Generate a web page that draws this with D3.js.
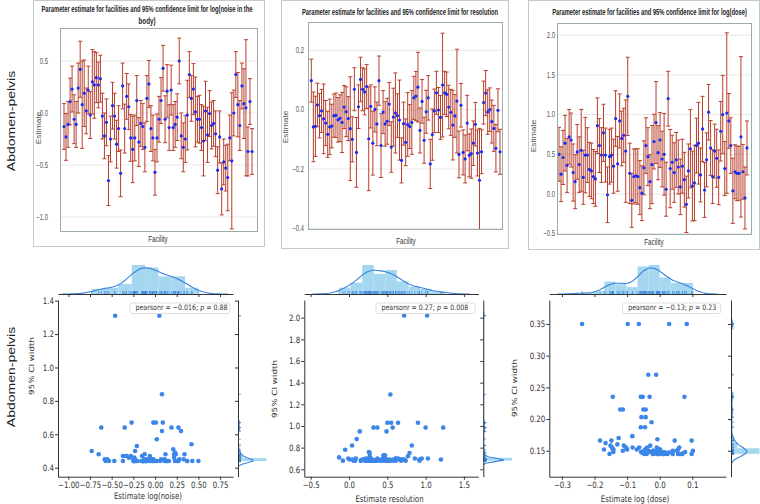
<!DOCTYPE html>
<html><head><meta charset="utf-8">
<script src="https://cdn.jsdelivr.net/npm/d3@7"></script>
<style>body{margin:0;background:#fff}svg{display:block}</style>
</head><body><svg id="c" width="760" height="504"></svg>
<script>
// ---------------- DATA ----------------
const rowLabel = "Abdomen-pelvis";
const noiseEst = [-0.13,-0.23,-0.11,0.11,0.23,-0.06,-0.11,0.24,0.42,0.08,0.19,0.02,0.22,-0.02,0.30,0.27,0.34,0.27,0.33,-0.03,-0.22,-0.09,-0.65,-0.25,0.07,-0.03,-0.30,-0.15,-0.58,0.26,-0.15,0.16,0.06,-0.24,-0.35,-0.24,0.12,-0.28,-0.10,-0.13,-0.33,0.14,0.28,-0.15,-0.24,-0.57,-0.24,-0.06,0.12,0.43,-0.06,0.21,-0.14,0.22,-0.14,-0.11,-0.04,0.50,-0.22,-0.33,-0.25,-0.02,0.37,0.14,0.23,0.01,-0.06,-0.06,-0.14,-0.27,0.02,-0.21,-0.005,-0.12,-0.10,-0.20,-0.55,-0.23,-0.73,-0.47,-0.53,-0.62,-0.24,-0.46,0.00,0.37,0.08,-0.12,0.26,0.09,0.05,-0.37,0.11,-0.37];
const noiseWidth = [0.44,0.45,0.44,0.45,0.44,0.47,0.44,0.48,0.54,0.84,0.64,0.44,0.46,0.45,0.62,0.64,0.48,0.44,0.45,0.44,0.44,0.45,0.48,0.44,0.45,0.44,0.46,0.44,0.45,0.44,0.47,0.44,0.44,0.45,0.64,0.44,0.48,0.47,0.44,0.44,0.47,0.44,0.45,0.44,0.44,0.44,0.46,0.44,0.44,0.44,0.45,0.51,0.44,0.48,0.44,0.44,0.45,0.44,0.44,0.47,0.45,0.67,0.44,0.44,0.49,0.67,0.44,0.46,0.44,0.67,0.57,0.53,0.44,0.45,0.44,0.44,0.45,0.50,0.50,0.44,0.44,0.64,0.44,1.31,0.44,0.44,0.62,0.48,0.44,0.67,1.31,0.47,0.44,0.44];
const resEst = [0.098,-0.058,-0.056,0.016,-0.02,-0.004,-0.031,-0.045,-0.083,-0.058,-0.055,-0.02,-0.019,-0.034,-0.029,-0.043,0.009,-0.007,-0.03,-0.064,-0.1,0.069,-0.144,0.01,0.102,0.069,0.06,0.078,-0.098,0.011,-0.113,0.001,-0.048,0.098,-0.121,-0.008,-0.048,-0.039,0.019,-0.126,-0.025,-0.011,-0.02,-0.035,-0.171,-0.047,-0.11,-0.05,-0.057,-0.043,0.04,0.046,0.076,-0.07,0.028,-0.103,-0.007,0.04,-0.183,-0.084,-0.004,0.057,-0.001,-0.026,0.083,0.057,0.052,0.009,-0.009,-0.052,-0.021,0.029,-0.151,0.015,-0.144,-0.166,-0.045,-0.154,-0.148,-0.113,-0.049,-0.146,-0.238,-0.142,0.024,0.056,-0.008,0.0,-0.04,-0.063,-0.13,-0.002,-0.142];
const resWidth = [0.145,0.235,0.203,0.147,0.15,0.145,0.235,0.152,0.155,0.187,0.147,0.145,0.15,0.15,0.158,0.203,0.145,0.168,0.148,0.35,0.152,0.145,0.235,0.147,0.15,0.145,0.155,0.148,0.35,0.145,0.215,0.152,0.147,0.166,0.215,0.145,0.15,0.155,0.145,0.17,0.195,0.27,0.147,0.27,0.152,0.145,0.158,0.215,0.148,0.215,0.145,0.166,0.235,0.152,0.147,0.155,0.145,0.15,0.166,0.173,0.147,0.145,0.152,0.148,0.35,0.145,0.15,0.147,0.155,0.235,0.145,0.35,0.158,0.147,0.152,0.162,0.187,0.145,0.166,0.15,0.147,0.155,0.35,0.148,0.145,0.152,0.15,0.147,0.145,0.155,0.16,0.145,0.152];
const doseEst = [0.5,0.25,0.46,0.64,0.36,0.72,0.68,0.27,0.155,0.53,0.37,0.55,0.21,0.49,0.49,0.31,0.29,0.22,0.19,0.86,0.61,0.49,0.77,0.49,-0.01,0.47,0.49,0.35,0.95,0.38,0.92,0.70,0.74,0.54,1.23,0.26,-0.08,0.22,0.23,0.22,0.08,0.01,0.33,0.61,0.47,0.155,0.37,0.66,0.9,0.52,0.68,0.44,0.5,0.06,1.2,0.32,0.4,0.27,0.43,0.34,0.09,0.35,0.18,-0.13,0.29,0.57,0.1,0.14,0.61,0.64,0.24,0.82,0.05,0.43,1.03,0.58,0.22,0.54,0.45,0.21,0.79,1.0,0.32,1.02,0.92,0.61,0.04,0.28,0.26,0.26,0.72,0.28,-0.05,0.58];
const doseWidth = [0.68,0.69,0.68,0.70,0.68,0.69,0.68,0.72,0.68,0.69,0.70,1.03,0.68,0.95,0.69,0.68,0.70,0.68,0.69,0.70,0.68,0.69,0.72,0.68,0.70,0.69,0.68,0.68,0.70,0.69,0.68,0.69,0.68,1.29,0.985,0.76,0.68,0.69,0.68,0.70,0.68,0.69,0.68,0.70,0.73,0.68,0.985,0.69,1.03,0.68,0.69,0.70,1.03,0.68,0.69,0.985,0.68,0.75,0.69,0.68,0.70,0.68,0.69,0.71,0.68,0.985,0.88,0.95,0.69,1.03,0.68,0.82,0.69,0.68,0.70,0.69,0.68,0.68,0.73,0.69,0.75,0.985,0.68,2.02,0.69,0.70,0.82,0.68,0.69,0.68,2.02,0.69,0.78,0.68];
const topTitles = [
  ["Parameter estimate for facilities and 95%  confidence limit for log(noise in the", "body)"],
  ["Parameter estimate for facilities and 95% confidence limit for resolution"],
  ["Parameter estimate for facilities and 95% confidence limit for log(dose)"]
];
const topTicks = [[0.5,0,-0.5,-1.0],[0.2,0,-0.2,-0.4],[2.0,1.5,1.0,0.5,0,-0.5]];
const jointXLabels = ["Estimate log(noise)","Estimate resolution","Estimate log (dose)"];
const jointYLabel = "95% CI width";
const jointXTicks = [[-1,-0.75,-0.5,-0.25,0,0.25,0.5,0.75],[-0.5,0,0.5,1.0,1.5],[-0.3,-0.2,-0.1,0,0.1]];
const jointYTicks = [[0.4,0.6,0.8,1.0,1.2,1.4],[0.6,0.8,1.0,1.2,1.4,1.6,1.8,2.0],[0.15,0.20,0.25,0.30,0.35]];
const pearsonR = ["\u22120.016","0.27","\u22120.13"];
const pearsonP = ["0.88","0.008","0.23"];

// ---------------- HELPERS ----------------
const svg = d3.select('#c');
const SANS = 'Liberation Sans, Arial, sans-serif';
const DV = 'DejaVu Sans, sans-serif';
function label(g, x, y, s, o = {}) {
  const t = g.append('text')
    .attr('text-anchor', o.anchor || 'middle')
    .attr('dominant-baseline', 'central')
    .style('font-family', o.font || SANS)
    .style('font-size', (o.size || 8) + 'px')
    .style('font-weight', o.weight || 'normal')
    .attr('fill', o.fill || '#333').text(s);
  let sx = o.sx || 1;
  if (o.len) sx = o.len / t.node().getComputedTextLength();
  let tr = `translate(${x},${y})`;
  if (sx !== 1) tr += ` scale(${sx},1)`;
  if (o.rot) tr += ` rotate(${o.rot})`;
  t.attr('transform', tr);
  return t;
}

// ---------------- TOP PANELS ----------------
function topPanel(p) {
  const g = svg.append('g');
  g.append('rect').attr('x', p.outer[0] + 0.5).attr('y', p.outer[1] + 0.5)
    .attr('width', p.outer[2] - p.outer[0]).attr('height', p.outer[3] - p.outer[1])
    .attr('fill', '#fff').attr('stroke', '#c3caca');
  const [L, T, R, B] = p.inner;
  const x = d3.scalePoint().domain(d3.range(p.est.length)).range(p.xr);
  const y = d3.scaleLinear().domain(p.yDom).range([B, T]);
  g.selectAll('line.grid').data(p.ticks).join('line').attr('class', 'grid')
    .attr('x1', L).attr('x2', R).attr('y1', d => y(d)).attr('y2', d => y(d))
    .attr('stroke', '#e8e8e8').attr('stroke-width', 1);
  const cid = 'clip' + p.id;
  svg.append('clipPath').attr('id', cid).append('rect').attr('x', L).attr('y', T).attr('width', R - L).attr('height', B - T);
  const pg = g.append('g').attr('clip-path', `url(#${cid})`);
  const data = p.est.map((e, i) => ({ i, e, lo: e - p.w[i] / 2, hi: e + p.w[i] / 2 }));
  const col = '#b83e2b';
  pg.selectAll('line.wh').data(data).join('line').attr('class', 'wh')
    .attr('x1', d => x(d.i)).attr('x2', d => x(d.i)).attr('y1', d => y(d.lo)).attr('y2', d => y(d.hi))
    .attr('stroke', col).attr('stroke-width', 1);
  ['lo', 'hi'].forEach(k => {
    pg.selectAll('line.cap' + k).data(data).join('line').attr('class', 'cap' + k)
      .attr('x1', d => x(d.i) - 2).attr('x2', d => x(d.i) + 2).attr('y1', d => y(d[k])).attr('y2', d => y(d[k]))
      .attr('stroke', col).attr('stroke-width', 1);
  });
  pg.selectAll('circle').data(data).join('circle')
    .attr('cx', d => x(d.i)).attr('cy', d => y(d.e)).attr('r', 1.6).attr('fill', '#1b2bf2');
  g.append('rect').attr('x', L + 0.5).attr('y', T + 0.5).attr('width', R - L).attr('height', B - T)
    .attr('fill', 'none').attr('stroke', '#9aabab');
  const ax = g.append('g').attr('transform', `translate(${L},0)`)
    .call(d3.axisLeft(y).tickValues(p.ticks).tickSize(0).tickFormat(d3.format('.1f')));
  ax.select('.domain').remove();
  const sx = 0.72;
  ax.selectAll('.tick text').attr('x', -p.pad / sx).attr('dy', null).attr('dominant-baseline', 'central')
    .attr('transform', `scale(${sx},1)`).style('font-family', SANS).style('font-size', '8.2px').attr('fill', '#555');
  p.title.forEach((t, i) => label(g, p.tx, p.ty[i], t, { size: 8.2, weight: 'bold', fill: '#222', len: p.tlen[i] }));
  label(g, p.ex, p.ey, 'Estimate', { size: 8.4, rot: -90, sx: 0.75, fill: '#555' });
  label(g, p.fx, p.fy, 'Facility', { size: 9.2, sx: 0.68, fill: '#333' });
}

topPanel({ id: 1, est: noiseEst, w: noiseWidth, outer: [33, 0, 264, 246], inner: [60, 28, 257, 231],
  xr: [64, 252], yDom: [(113 - 231) / 104, (113 - 28) / 104], ticks: topTicks[0], pad: 12,
  title: topTitles[0], tx: 147, ty: [10, 21], tlen: [211, 17], ex: 39, ey: 128, fx: 158, fy: 239 });
topPanel({ id: 2, est: resEst, w: resWidth, outer: [281, 0, 508, 248], inner: [308, 22, 502, 229],
  xr: [311.3, 500], yDom: [(109.7 - 229) / 296.5, (109.7 - 22) / 296.5], ticks: topTicks[1], pad: 4,
  title: topTitles[1], tx: 400, ty: [13], tlen: [196], ex: 286, ey: 127, fx: 406, fy: 241 });
topPanel({ id: 3, est: doseEst, w: doseWidth, outer: [528, 0, 759, 249], inner: [557, 23, 751, 234],
  xr: [559, 747], yDom: [(194 - 234) / 79.4, (194 - 23) / 79.4], ticks: topTicks[2], pad: 2,
  title: topTitles[2], tx: 649.5, ty: [13], tlen: [195], ex: 534, ey: 136, fx: 654, fy: 242 });

label(svg, 12, 121, rowLabel, { size: 14, rot: -90, sx: 0.72, fill: '#222' });
label(svg, 12, 377, rowLabel, { size: 14, rot: -90, sx: 0.72, fill: '#222' });

// ---------------- JOINT PLOTS ----------------
function iqr(a) { return d3.quantile(a, 0.75) - d3.quantile(a, 0.25); }
function bwScott(a) {
  const sd = d3.deviation(a); const q = iqr(a) / 1.349;
  const A = (q > 0) ? Math.min(sd, q) : sd;
  return 1.059 * A * Math.pow(a.length, -0.2);
}
function kde(a) {
  const bw = bwScott(a); const lo = d3.min(a) - 3 * bw, hi = d3.max(a) + 3 * bw;
  return d3.range(100).map(i => { const g = lo + (hi - lo) * i / 99;
    return [g, d3.mean(a, v => Math.exp(-0.5 * ((g - v) / bw) ** 2)) / (bw * Math.sqrt(2 * Math.PI))]; });
}
function hist(a) {
  const n = a.length, mn = d3.min(a), mx = d3.max(a);
  const h = 2 * iqr(a) / Math.cbrt(n);
  let k = h === 0 ? Math.floor(Math.sqrt(n)) : Math.ceil((mx - mn) / h);
  k = Math.min(k, 50);
  const bwid = (mx - mn) / k;
  const counts = new Array(k).fill(0);
  a.forEach(v => { let j = Math.floor((v - mn) / bwid); if (j >= k) j = k - 1; counts[j]++; });
  return counts.map((c, j) => ({ x0: mn + j * bwid, x1: mn + (j + 1) * bwid, d: c / (n * bwid) }));
}

const PT = '#3b86e8', KC = '#3a82dc', HC = '#a5d8f0';
function joint(p) {
  const g = svg.append('g');
  const { L, R, T, B } = p;
  const x = d3.scaleLinear().domain(p.xDom).range([L, R]);
  const y = d3.scaleLinear().domain(p.yDom).range([B, T]);
  const sx = 0.8;
  // top marginal
  const hx = hist(p.xs), kx = kde(p.xs);
  const mT0 = T - 6, mT1 = mT0 - 30.5;
  const yM = d3.scaleLinear().domain([0, 1.05 * Math.max(d3.max(hx, d => d.d), d3.max(kx, d => d[1]))]).range([mT0, mT1]);
  const c1 = 'jc' + p.id + 'a';
  svg.append('clipPath').attr('id', c1).append('rect').attr('x', L).attr('y', mT1).attr('width', R - L).attr('height', mT0 - mT1);
  const tg = g.append('g').attr('clip-path', `url(#${c1})`);
  tg.selectAll('rect').data(hx).join('rect').attr('x', d => x(d.x0)).attr('width', d => x(d.x1) - x(d.x0))
    .attr('y', d => yM(d.d)).attr('height', d => mT0 - yM(d.d)).attr('fill', HC);
  tg.append('path').datum(kx).attr('d', d3.line().x(d => x(d[0])).y(d => yM(d[1]))).attr('fill', 'none').attr('stroke', KC).attr('stroke-width', 1.1);
  tg.selectAll('line.rug').data(p.xs).join('line').attr('class', 'rug').attr('x1', d => x(d)).attr('x2', d => x(d))
    .attr('y1', mT0).attr('y2', mT0 - 3).attr('stroke', KC).attr('stroke-width', 0.6);
  const ta = g.append('g').attr('transform', `translate(0,${mT0})`)
    .call(d3.axisBottom(x).tickValues(p.xt).tickFormat('').tickSize(3).tickSizeOuter(0));
  ta.selectAll('path,line').attr('stroke', '#333');
  // right marginal
  const hy = hist(p.ys), ky = kde(p.ys);
  const mR0 = R + 5, mR1 = mR0 + 30;
  const xM = d3.scaleLinear().domain([0, 1.05 * Math.max(d3.max(hy, d => d.d), d3.max(ky, d => d[1]))]).range([mR0, mR1]);
  const c2 = 'jc' + p.id + 'b';
  svg.append('clipPath').attr('id', c2).append('rect').attr('x', mR0).attr('y', T).attr('width', mR1 - mR0).attr('height', B - T);
  const rg = g.append('g').attr('clip-path', `url(#${c2})`);
  rg.selectAll('rect').data(hy).join('rect').attr('y', d => y(d.x1)).attr('height', d => y(d.x0) - y(d.x1))
    .attr('x', mR0).attr('width', d => xM(d.d) - mR0).attr('fill', HC);
  rg.append('path').datum(ky).attr('d', d3.line().y(d => y(d[0])).x(d => xM(d[1]))).attr('fill', 'none').attr('stroke', KC).attr('stroke-width', 1.1);
  rg.selectAll('line.rug').data(p.ys).join('line').attr('class', 'rug').attr('y1', d => y(d)).attr('y2', d => y(d))
    .attr('x1', mR0).attr('x2', mR0 + 3).attr('stroke', KC).attr('stroke-width', 0.6);
  const ra = g.append('g').attr('transform', `translate(${mR0},0)`)
    .call(d3.axisLeft(y).tickValues(p.yt).tickFormat('').tickSize(3).tickSizeOuter(0));
  ra.selectAll('path,line').attr('stroke', '#333');
  // scatter
  g.selectAll('circle').data(p.xs.map((v, i) => [v, p.ys[i]])).join('circle')
    .attr('cx', d => x(d[0])).attr('cy', d => y(d[1])).attr('r', 2.3).attr('fill', PT);
  // axes
  const xa = g.append('g').attr('transform', `translate(0,${B})`)
    .call(d3.axisBottom(x).tickValues(p.xt).tickFormat(d3.format(p.xf)).tickSize(3).tickSizeOuter(0));
  xa.selectAll('path,line').attr('stroke', '#333');
  xa.selectAll('.tick text').attr('y', 0).attr('dy', null).attr('dominant-baseline', 'central')
    .attr('transform', `translate(0,8.6) scale(${sx},1)`).style('font-family', DV).style('font-size', '8.8px').attr('fill', '#333');
  const ya = g.append('g').attr('transform', `translate(${L},0)`)
    .call(d3.axisLeft(y).tickValues(p.yt).tickFormat(d3.format(p.yf)).tickSize(3).tickSizeOuter(0));
  ya.selectAll('path,line').attr('stroke', '#333');
  ya.selectAll('.tick text').attr('x', 0).attr('dy', null).attr('dominant-baseline', 'central')
    .attr('transform', `translate(-4,0) scale(${sx},1)`).style('font-family', DV).style('font-size', '8.8px').attr('fill', '#333');
  label(g, p.xlx, p.xly, p.xl, { font: DV, size: 8.8, sx, fill: '#333' });
  label(g, p.ylx, p.yly, jointYLabel, { font: DV, size: 8.8, sx, rot: -90, fill: '#333' });
  // legend
  g.append('rect').attr('x', p.lg[0]).attr('y', 303).attr('width', p.lg[1] - p.lg[0]).attr('height', 10.5).attr('rx', 2)
    .attr('fill', '#fff').attr('stroke', '#d6d6d6').attr('stroke-width', 0.8);
  const lt = g.append('text').attr('transform', `translate(${p.lg[0] + 5.5},308.3) scale(0.83,1)`)
    .attr('dominant-baseline', 'central').style('font-family', DV).style('font-size', '7.6px').attr('fill', '#333');
  lt.append('tspan').text(`pearsonr = ${p.r}; `);
  lt.append('tspan').style('font-style', 'italic').text('p');
  lt.append('tspan').text(` = ${p.pv}`);
}

joint({ id: 1, xs: noiseEst, ys: noiseWidth, L: 58, R: 233, T: 300, B: 476.7,
  xDom: [-1.119, 0.899], yDom: [0.346, 1.404], xt: jointXTicks[0], yt: jointYTicks[0], xf: '.2f', yf: '.1f',
  xl: jointXLabels[0], xlx: 148, xly: 496, ylx: 31.7, yly: 366, lg: [130, 230], r: pearsonR[0], pv: pearsonP[0] });
joint({ id: 2, xs: doseEst, ys: doseWidth, L: 304.3, R: 478.3, T: 300, B: 476.7,
  xDom: [-0.5836, 1.688], yDom: [0.5317, 2.163], xt: jointXTicks[1], yt: jointYTicks[1], xf: '.1f', yf: '.1f',
  xl: jointXLabels[1], xlx: 389.5, xly: 499, ylx: 275, yly: 389, lg: [376, 475], r: pearsonR[1], pv: pearsonP[1] });
joint({ id: 3, xs: resEst, ys: resWidth, L: 549.3, R: 726, T: 300, B: 476.7,
  xDom: [-0.3387, 0.2034], yDom: [0.109, 0.3879], xt: jointXTicks[2], yt: jointYTicks[2], xf: '.1f', yf: '.2f',
  xl: jointXLabels[2], xlx: 635, xly: 499, ylx: 515, yly: 388, lg: [622.7, 720.7], r: pearsonR[2], pv: pearsonP[2] });
</script>
</body></html>
